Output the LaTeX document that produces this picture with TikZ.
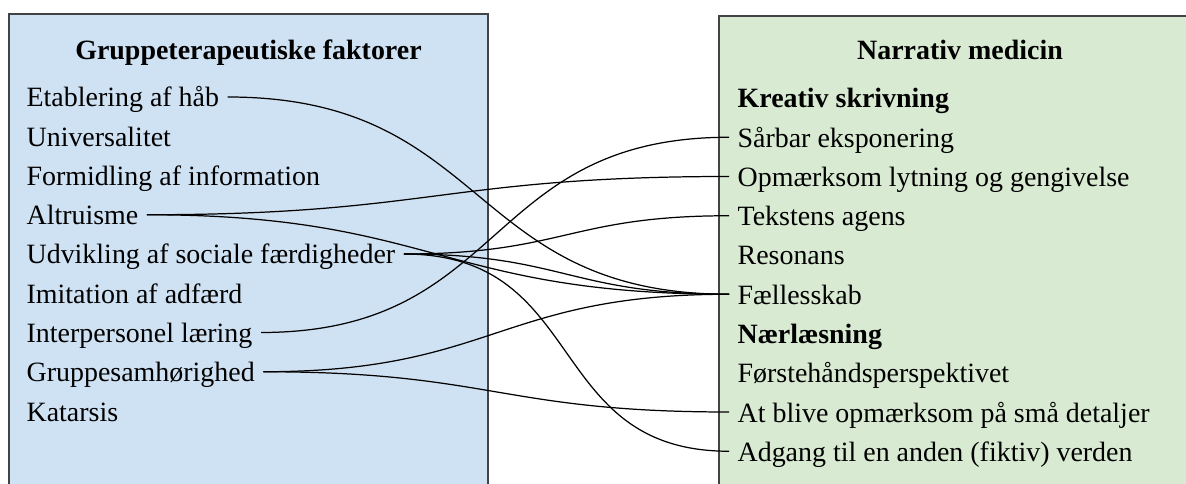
\documentclass[tikz,border=0pt]{standalone}
\usepackage{fontspec}
\setmainfont{Liberation Serif}
\usetikzlibrary{positioning}

\definecolor{leftfill}{RGB}{207,226,243}
\definecolor{rightfill}{RGB}{217,234,211}
\definecolor{boxline}{RGB}{67,67,67}

\tikzstyle{item}=[anchor=west,
                  inner xsep=0.16cm,
                  inner ysep=0pt,
                  text height=0.5925cm,
                  text depth=0.1925cm]
\tikzstyle{listbelow}=[below=of #1.west,
                       anchor=west]
\tikzstyle{heading}=[anchor=base,
                     font=\fontsize{15.9}{19}\selectfont\bfseries]
\tikzstyle{link}=[out=0,
                  in=180,
                  looseness=1.25]

\begin{document}
\begin{tikzpicture}[node distance=0.785cm,line width=0.7pt,
                    every node/.style={font=\fontsize{15.9}{19}\selectfont}]

\path[use as bounding box,clip] (0,0) rectangle (23.72,-9.68);

% the two boxes
\filldraw[fill=leftfill,draw=boxline,line width=0.75pt] (0.18,-0.28) rectangle (9.76,-10.2);
\filldraw[fill=rightfill,draw=boxline,line width=0.75pt] (14.38,-0.32) rectangle (24.2,-10.2);

% left column
\node[heading] (gt) at (4.97,-1.2) {Gruppeterapeutiske faktorer};
\node[item] (g1) at (0.36,-1.94)          {Etablering af håb};
\node[item] (g2) [listbelow=g1]           {Universalitet};
\node[item] (g3) [listbelow=g2]           {Formidling af information};
\node[item] (g4) [listbelow=g3]           {Altruisme};
\node[item] (g5) [listbelow=g4]           {Udvikling af sociale færdigheder};
\node[item] (g6) [listbelow=g5]           {Imitation af adfærd};
\node[item] (g7) [listbelow=g6]           {Interpersonel læring};
\node[item] (g8) [listbelow=g7]           {Gruppesamhørighed};
\node[item] (g9) [listbelow=g8]           {Katarsis};

% right column
\node[heading] (nt) at (19.2,-1.2) {Narrativ medicin};
\node[item] (n0) at (14.58,-1.96)         {\bfseries Kreativ skrivning};
\node[item] (n1) [listbelow=n0]           {Sårbar eksponering};
\node[item] (n2) [listbelow=n1]           {Opmærksom lytning og gengivelse};
\node[item] (n3) [listbelow=n2]           {Tekstens agens};
\node[item] (n4) [listbelow=n3]           {Resonans};
\node[item] (n5) [listbelow=n4]           {Fællesskab};
\node[item] (n6) [listbelow=n5]           {\bfseries Nærlæsning};
\node[item] (n7) [listbelow=n6]           {Førstehåndsperspektivet};
\node[item] (n8) [listbelow=n7]           {At blive opmærksom på små detaljer};
\node[item] (n9) [listbelow=n8]           {Adgang til en anden (fiktiv) verden};

\path[draw=black] (g1) edge[link] (n5)
                  (g4) edge[link] (n2)
                  (g4) edge[link] (n5)
                  (g5) edge[link] (n3)
                  (g5) edge[link] (n5)
                  (g5) edge[link] (n9)
                  (g7) edge[link] (n1)
                  (g8) edge[link] (n5)
                  (g8) edge[link] (n8);
\end{tikzpicture}
\end{document}
